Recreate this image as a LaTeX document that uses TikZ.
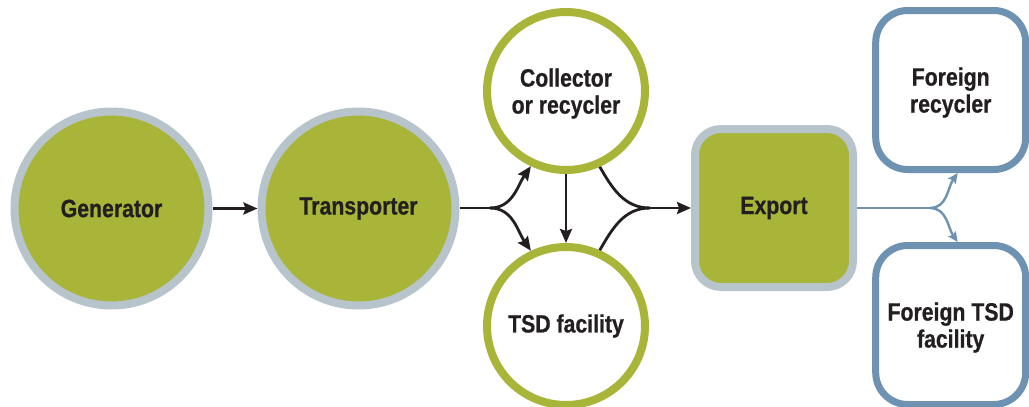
\documentclass[tikz,border=0pt]{standalone}
\usepackage{fontspec}
\setmainfont{Liberation Sans}[FakeStretch=0.85, BoldFeatures={FakeBold=0.7}]
\usetikzlibrary{arrows.meta}

\definecolor{leaf}{RGB}{168,181,57}
\definecolor{haze}{RGB}{183,196,204}
\definecolor{steel}{RGB}{110,146,178}
\definecolor{ink}{RGB}{35,31,32}

\begin{document}
\begin{tikzpicture}[x=1pt, y=1pt,
    txt/.style={font=\bfseries\fontsize{25}{27}\selectfont, text=ink, align=center},
    stage/.style={circle, txt, fill=leaf, draw=haze, line width=8pt, minimum size=194pt, inner sep=0pt},
    site/.style={circle, txt, fill=white, draw=leaf, line width=8pt, minimum size=158pt, inner sep=0pt},
    outbox/.style={rectangle, txt, fill=leaf, draw=haze, line width=8pt, rounded corners=26pt,
        minimum width=158pt, minimum height=158pt, inner sep=0pt},
    abroad/.style={rectangle, txt, fill=white, draw=steel, line width=7pt, rounded corners=32pt,
        minimum width=150pt, minimum height=159pt, inner sep=0pt},
    flow/.style={draw=ink, line width=2.8pt, -{Stealth[length=14pt, width=12pt, inset=2pt]}},
    plain/.style={draw=ink, line width=2.8pt},
    ship/.style={draw=steel, line width=2.4pt}]

    \useasboundingbox (0,0) rectangle (1029,-407);

    \node[stage] (gen) at (111.5,-208.5) {Generator};
    \node[stage] (trans) at (358.5,-208.5) {Transporter};
    \node[site] (coll) at (566,-91) {Collector\\or recycler\\[-27pt]};
    \node[site] (tsd) at (566,-326) {TSD facility};
    \node[outbox] (export) at (774,-208) {Export};
    \node[abroad] (frec) at (950.7,-90) {Foreign\\recycler\\[-27pt]};
    \node[abroad] (ftsd) at (950.7,-325) {Foreign TSD\\facility\\[-27pt]};

    \coordinate (split) at (490,-208);
    \coordinate (merge) at (650,-208);
    \coordinate (bsplit) at (930,-208);

    \draw[flow] (gen) -- (trans);
    \draw[plain] (trans.east |- split) -- (split);
    \draw[flow] (split) to[out=0, in=235] (coll.245);
    \draw[flow] (split) to[out=0, in=125] (tsd.115);
    \draw[flow] (coll) -- (tsd);
    \draw[plain] (coll.294) to[out=300, in=180] (merge);
    \draw[plain] (tsd.66) to[out=60, in=180] (merge);
    \draw[flow] (merge) -- (export);

    \begin{scope}[-{Stealth[length=10pt, width=9pt, inset=1.5pt]}]
        \draw[ship, -] (export.east |- bsplit) -- (bsplit);
        \draw[ship] (bsplit) to[out=0, in=235] ([xshift=7pt]frec.south);
        \draw[ship] (bsplit) to[out=0, in=125] ([xshift=7pt]ftsd.north);
    \end{scope}
\end{tikzpicture}
\end{document}
